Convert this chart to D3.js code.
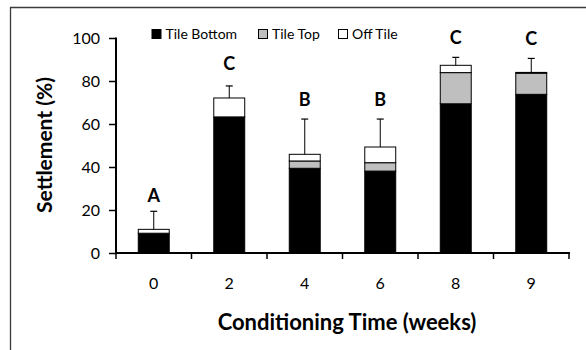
<!DOCTYPE html>
<html><head><meta charset="utf-8">
<script src="https://cdn.jsdelivr.net/npm/d3@7"></script>
<style>body{margin:0;background:#fff}svg{display:block}text{font-family:Lato,"Open Sans",sans-serif}</style>
</head><body>
<svg id="c" width="586" height="350"></svg>
<script>
const categories = ["0","2","4","6","8","9"];
const tileBottom = [9.2, 63.3, 39.4, 38.1, 69.4, 73.8];
const tileTop    = [0,   0,    3.4,  3.9,  14.5, 9.8];
const offTile    = [1.8, 8.8,  3.1,  7.3,  3.4,  0.4];
const errTop     = [19.4, 77.7, 62.3, 62.3, 91.0, 90.5];
const letters    = ["A","C","B","B","C","C"];
const letterAt   = [23.9, 85.1, 68.4, 68.4, 97.2, 96.9];
const yTicks     = [0,20,40,60,80,100];
const seriesNames = ["Tile Bottom","Tile Top","Off Tile"];
const seriesColors = ["#000000","#bfbfbf","#ffffff"];

const svg = d3.select("#c");
// frame
svg.append("path").attr("d","M10.5,350 L10.5,7.5 L586,7.5").attr("fill","none").attr("stroke","#3a3a3a").attr("stroke-width",1.3);

const x0=116, x1=569, yb=253, yt=38;
const x = d3.scaleBand().domain(categories).range([x0,x1]).paddingInner(0.59).paddingOuter(0.295);
const y = d3.scaleLinear().domain([0,100]).range([yb,yt]);

const rows = categories.map((c,i)=>({cat:c, "Tile Bottom":tileBottom[i], "Tile Top":tileTop[i], "Off Tile":offTile[i]}));
const stack = d3.stack().keys(seriesNames)(rows);

const g = svg.append("g");
stack.forEach((s,k)=>{
  g.selectAll(null).data(s).join("rect")
    .attr("x",d=>x(d.data.cat)).attr("width",x.bandwidth())
    .attr("y",d=>y(d[1])).attr("height",d=>Math.max(0,y(d[0])-y(d[1])))
    .attr("fill",seriesColors[k]).attr("stroke","#000").attr("stroke-width",1)
    .attr("display",d=>(d[1]-d[0])>0?null:"none");
});

// error bars
const totals = categories.map((c,i)=>tileBottom[i]+tileTop[i]+offTile[i]);
categories.forEach((c,i)=>{
  const cx = x(c)+x.bandwidth()/2;
  g.append("line").attr("x1",cx).attr("x2",cx).attr("y1",y(totals[i])).attr("y2",y(errTop[i])).attr("stroke","#000").attr("stroke-width",1);
  g.append("line").attr("x1",cx-3.5).attr("x2",cx+3.5).attr("y1",y(errTop[i])).attr("y2",y(errTop[i])).attr("stroke","#000").attr("stroke-width",1.2);
  g.append("text").attr("x",cx).attr("y",y(letterAt[i])).attr("text-anchor","middle")
    .attr("font-size",18).attr("font-weight","bold").attr("fill","#000").text(letters[i]);
});

// axes
const yAxis = d3.axisLeft(y).tickValues(yTicks).tickSize(7).tickPadding(9);
const ya = svg.append("g").attr("transform",`translate(${x0},0)`).call(yAxis);
ya.select(".domain").attr("stroke-width",2).attr("d",`M0,${yt-0.5}V${yb}`);
ya.selectAll(".tick line").attr("stroke-width",1.5);
ya.selectAll(".tick text").attr("font-size",16).attr("fill","#000").style("font-family","Lato, sans-serif");

const xEdge = d3.scaleLinear().domain([0,categories.length]).range([x0,x1]);
const xa = svg.append("g").attr("transform",`translate(0,${yb})`);
xa.append("line").attr("x1",x0-1).attr("x2",x1+1).attr("stroke","#000").attr("stroke-width",2);
xa.selectAll(null).data(d3.range(categories.length+1)).join("line")
  .attr("x1",d=>xEdge(d)).attr("x2",d=>xEdge(d)).attr("y1",0).attr("y2",6).attr("stroke","#000").attr("stroke-width",1.5);
xa.selectAll(null).data(categories).join("text")
  .attr("x",d=>x(d)+x.bandwidth()/2).attr("y",36).attr("text-anchor","middle")
  .attr("font-size",16).attr("fill","#000").text(d=>d);

// axis titles
svg.append("text").attr("transform","translate(52,145) rotate(-90)").attr("text-anchor","middle")
  .attr("font-size",21).attr("font-weight","bold").attr("fill","#000").text("Settlement (%)");
svg.append("text").attr("x",347).attr("y",330).attr("text-anchor","middle")
  .attr("font-size",22).attr("font-weight","bold").attr("fill","#000").text("Conditioning Time (weeks)");

// legend
const legX = [152, 258.5, 338.5];
const leg = svg.append("g");
seriesNames.forEach((n,i)=>{
  leg.append("rect").attr("x",legX[i]).attr("y",29.5).attr("width",9).attr("height",9)
    .attr("fill",seriesColors[i]).attr("stroke","#000").attr("stroke-width",1);
  leg.append("text").attr("x",legX[i]+13.5).attr("y",38.5).attr("font-size",14).attr("fill","#000").text(n);
});
</script>
</body></html>
